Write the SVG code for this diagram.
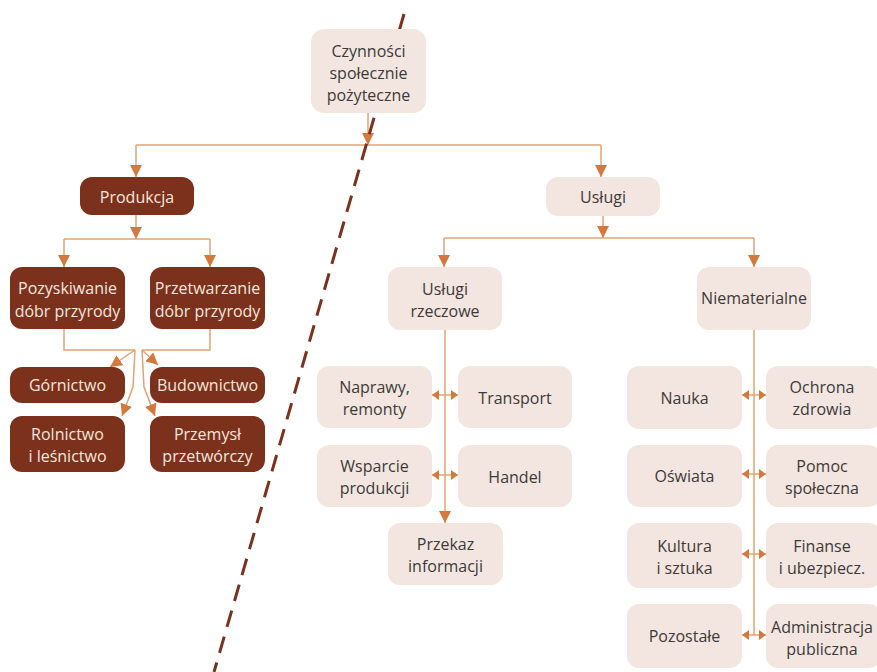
<svg xmlns="http://www.w3.org/2000/svg" width="877" height="672" viewBox="0 0 877 672">
<style>
.d{fill:#7b311b}
.l{fill:#f3e6e0}
text{font-family:"Open Sans","Noto Sans",sans-serif;font-size:16px;text-anchor:middle}
.dt{fill:#f5e6df}
.lt{fill:#3d3a39}
.c{fill:none;stroke:#e1a373;stroke-width:1.5}
.dash{fill:none;stroke:#7b311b;stroke-width:3;stroke-dasharray:17 10}
</style>
<defs>
<marker id="a" markerUnits="userSpaceOnUse" markerWidth="12" markerHeight="12" refX="12" refY="6" orient="auto"><path d="M0,0L12,6L0,12z" fill="#d4793d"/></marker>
<marker id="s" markerUnits="userSpaceOnUse" markerWidth="7" markerHeight="10" refX="7" refY="5" orient="auto-start-reverse"><path d="M0,0L7,5L0,10z" fill="#d4793d"/></marker>
</defs>
<rect width="877" height="672" fill="#ffffff"/>
<g id="connectors">
<path class="c" d="M368,113V145" marker-end="url(#a)"/>
<path class="c" d="M136,145H601"/>
<path class="c" d="M136,145V177" marker-end="url(#a)"/>
<path class="c" d="M601,145V177" marker-end="url(#a)"/>
<path class="c" d="M136,215V239" marker-end="url(#a)"/>
<path class="c" d="M64,239H210"/>
<path class="c" d="M64,239V267" marker-end="url(#a)"/>
<path class="c" d="M210,239V267" marker-end="url(#a)"/>
<path class="c" d="M64,329V350H135"/>
<path class="c" d="M210,329V350H142"/>
<path class="c" d="M135,350L110,367" marker-end="url(#a)"/>
<path class="c" d="M135,350L133,387L122,416" marker-end="url(#a)"/>
<path class="c" d="M142,350L158,365" marker-end="url(#a)"/>
<path class="c" d="M142,350L144,387L155,416" marker-end="url(#a)"/>
<path class="c" d="M603,216V238" marker-end="url(#a)"/>
<path class="c" d="M444,238H754"/>
<path class="c" d="M444,238V267" marker-end="url(#a)"/>
<path class="c" d="M754,238V267" marker-end="url(#a)"/>
<path class="c" d="M445,330V523" marker-end="url(#a)"/>
<path class="c" d="M432,395H458" marker-start="url(#s)" marker-end="url(#s)"/>
<path class="c" d="M432,475H458" marker-start="url(#s)" marker-end="url(#s)"/>
<path class="c" d="M754,330V635"/>
<path class="c" d="M742,395H766" marker-start="url(#s)" marker-end="url(#s)"/>
<path class="c" d="M742,474H766" marker-start="url(#s)" marker-end="url(#s)"/>
<path class="c" d="M742,554H766" marker-start="url(#s)" marker-end="url(#s)"/>
<path class="c" d="M742,635H766" marker-start="url(#s)" marker-end="url(#s)"/>
</g>
<path class="dash" d="M404,14L214,672"/>
<g id="n-czynnosci"><rect class="l" x="311" y="29" width="115" height="84" rx="13"/><text class="lt" x="368.5" y="57">Czynności</text><text class="lt" x="368.5" y="79">społecznie</text><text class="lt" x="368.5" y="101">pożyteczne</text></g>
<g id="n-produkcja"><rect class="d" x="80" y="177" width="114" height="38" rx="12"/><text class="dt" x="137" y="203">Produkcja</text></g>
<g id="n-pozyskiwanie"><rect class="d" x="10" y="267" width="115" height="62" rx="12"/><text class="dt" x="67.5" y="294">Pozyskiwanie</text><text class="dt" x="67.5" y="317">dóbr przyrody</text></g>
<g id="n-przetwarzanie"><rect class="d" x="150" y="267" width="115" height="62" rx="12"/><text class="dt" x="207.5" y="294">Przetwarzanie</text><text class="dt" x="207.5" y="317">dóbr przyrody</text></g>
<g id="n-gornictwo"><rect class="d" x="10" y="367" width="115" height="36" rx="12"/><text class="dt" x="67.5" y="391">Górnictwo</text></g>
<g id="n-budownictwo"><rect class="d" x="150" y="367" width="115" height="36" rx="12"/><text class="dt" x="207.5" y="391">Budownictwo</text></g>
<g id="n-rolnictwo"><rect class="d" x="10" y="416" width="115" height="56" rx="12"/><text class="dt" x="67.5" y="440">Rolnictwo</text><text class="dt" x="67.5" y="462">i leśnictwo</text></g>
<g id="n-przemysl"><rect class="d" x="150" y="416" width="115" height="56" rx="12"/><text class="dt" x="207.5" y="440">Przemysł</text><text class="dt" x="207.5" y="462">przetwórczy</text></g>
<g id="n-uslugi"><rect class="l" x="546" y="177" width="114" height="39" rx="12"/><text class="lt" x="603" y="203">Usługi</text></g>
<g id="n-rzeczowe"><rect class="l" x="388" y="267" width="114" height="63" rx="12"/><text class="lt" x="445" y="295">Usługi</text><text class="lt" x="445" y="317">rzeczowe</text></g>
<g id="n-niematerialne"><rect class="l" x="697" y="267" width="114" height="63" rx="12"/><text class="lt" x="754" y="304">Niematerialne</text></g>
<g id="n-naprawy"><rect class="l" x="317" y="366" width="115" height="62" rx="12"/><text class="lt" x="374.5" y="393">Naprawy,</text><text class="lt" x="374.5" y="415">remonty</text></g>
<g id="n-transport"><rect class="l" x="458" y="366" width="114" height="62" rx="12"/><text class="lt" x="515" y="404">Transport</text></g>
<g id="n-wsparcie"><rect class="l" x="317" y="445" width="115" height="62" rx="12"/><text class="lt" x="374.5" y="472">Wsparcie</text><text class="lt" x="374.5" y="494">produkcji</text></g>
<g id="n-handel"><rect class="l" x="458" y="445" width="114" height="62" rx="12"/><text class="lt" x="515" y="483">Handel</text></g>
<g id="n-przekaz"><rect class="l" x="388" y="523" width="115" height="62" rx="12"/><text class="lt" x="445.5" y="550">Przekaz</text><text class="lt" x="445.5" y="572">informacji</text></g>
<g id="n-nauka"><rect class="l" x="627" y="366" width="115" height="63" rx="12"/><text class="lt" x="684.5" y="404">Nauka</text></g>
<g id="n-ochrona"><rect class="l" x="766" y="366" width="115" height="63" rx="12"/><text class="lt" x="822" y="393">Ochrona</text><text class="lt" x="822" y="415">zdrowia</text></g>
<g id="n-oswiata"><rect class="l" x="627" y="445" width="115" height="62" rx="12"/><text class="lt" x="684.5" y="482">Oświata</text></g>
<g id="n-pomoc"><rect class="l" x="766" y="445" width="115" height="62" rx="12"/><text class="lt" x="822" y="472">Pomoc</text><text class="lt" x="822" y="494">społeczna</text></g>
<g id="n-kultura"><rect class="l" x="627" y="523" width="115" height="65" rx="12"/><text class="lt" x="684.5" y="552">Kultura</text><text class="lt" x="684.5" y="574">i sztuka</text></g>
<g id="n-finanse"><rect class="l" x="766" y="523" width="115" height="65" rx="12"/><text class="lt" x="822" y="552">Finanse</text><text class="lt" x="822" y="574">i ubezpiecz.</text></g>
<g id="n-pozostale"><rect class="l" x="627" y="604" width="115" height="64" rx="12"/><text class="lt" x="684.5" y="642">Pozostałe</text></g>
<g id="n-administracja"><rect class="l" x="766" y="604" width="115" height="64" rx="12"/><text class="lt" x="822" y="633">Administracja</text><text class="lt" x="822" y="655">publiczna</text></g>
</svg>
